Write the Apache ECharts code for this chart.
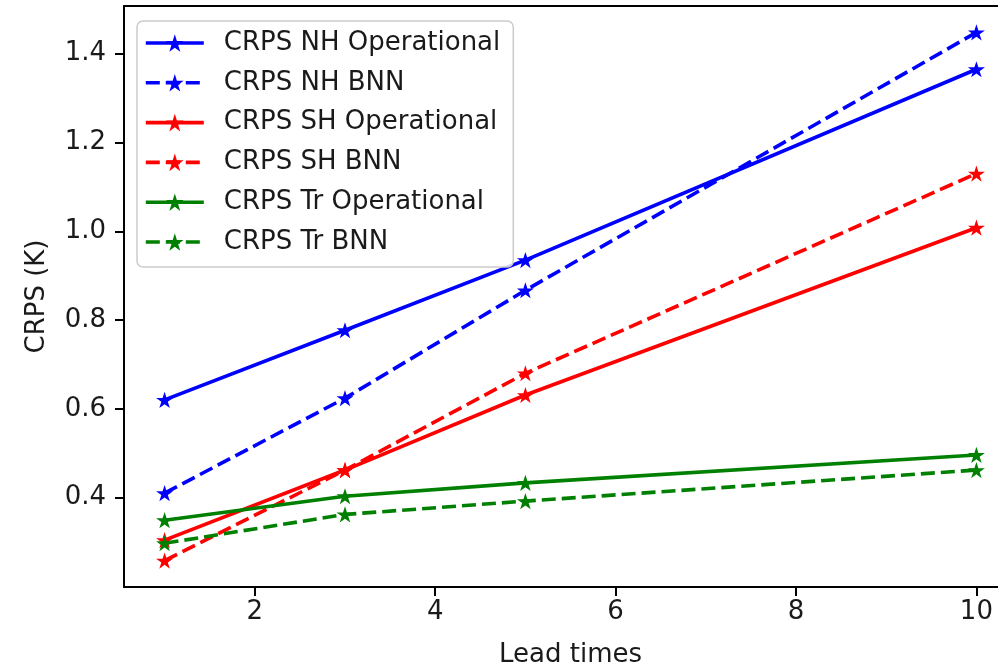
<!DOCTYPE html>
<html>
<head>
<meta charset="utf-8">
<script src="https://cdn.jsdelivr.net/npm/echarts@6/dist/echarts.min.js"></script>
<style>
  html, body { margin: 0; padding: 0; background: #fff; overflow: hidden; width: 998px; }
  /* wider than the window: the right spine falls outside the picture, as in the original */
  #chart { width: 1030px; height: 669px; }
</style>
</head>
<body>
<div id="chart"></div>
<script>
// lead times (x) and CRPS values
var leadTimes = [1, 3, 5, 10];
var nhOperational = [0.620, 0.777, 0.935, 1.365];
var nhBnn = [0.410, 0.624, 0.867, 1.448];
var shOperational = [0.304, 0.462, 0.631, 1.008];
var shBnn = [0.258, 0.462, 0.680, 1.130];
var trOperational = [0.349, 0.403, 0.433, 0.496];
var trBnn = [0.297, 0.362, 0.392, 0.462];

var xTicks = [2, 4, 6, 8, 10];
var yTicks = [0.4, 0.6, 0.8, 1.0, 1.2, 1.4];

var seriesNames = ['CRPS NH Operational', 'CRPS NH BNN', 'CRPS SH Operational',
  'CRPS SH BNN', 'CRPS Tr Operational', 'CRPS Tr BNN'];

// matplotlib '*' marker
var star = 'path://M0,-10 L2.245,-3.09 L9.511,-3.09 L3.633,1.18 L5.878,8.09 L0,3.82 ' +
  'L-5.878,8.09 L-3.633,1.18 L-9.511,-3.09 L-2.245,-3.09 Z';

var font = 'DejaVu Sans';
var fs = 26;

function pairs(ys) {
  return leadTimes.map(function (x, i) { return [x, ys[i]]; });
}

function makeLine(name, ys, color, dashed) {
  return {
    name: name,
    type: 'line',
    data: pairs(ys),
    symbol: star,
    symbolSize: 17,
    symbolKeepAspect: true,
    showAllSymbol: true,
    itemStyle: { color: color, borderWidth: 0 },
    lineStyle: { color: color, width: 3.6, type: dashed ? [14, 6] : 'solid' },
    emphasis: { disabled: true },
    animation: false
  };
}

var myChart = echarts.init(document.getElementById('chart'));

var option = {
  backgroundColor: '#fff',
  animation: false,
  grid: {
    left: 124,
    top: 6,
    width: 893,
    height: 581,
    show: false,
    containLabel: false,
    outerBoundsMode: 'none'
  },
  legend: {
    orient: 'vertical',
    left: 137,
    top: 21,
    padding: [7, 13, 10, 7],
    itemWidth: 58,
    itemHeight: 22,
    itemGap: 9.8,
    backgroundColor: 'rgba(255,255,255,0.8)',
    borderColor: '#cccccc',
    borderWidth: 1.5,
    borderRadius: 6,
    z: 10,
    data: seriesNames,
    lineStyle: { width: 3.6 },
    textStyle: {
      fontFamily: font,
      fontSize: fs,
      color: '#1a1a1a',
      lineHeight: 30,
      padding: [0, 0, 0, 15]
    }
  },
  xAxis: [{
    type: 'value',
    min: 0.55,
    max: 10.45,
    name: 'Lead times',
    nameLocation: 'middle',
    nameGap: 55,
    nameTextStyle: { fontFamily: font, fontSize: fs, color: '#1a1a1a' },
    splitLine: { show: false },
    axisLine: { lineStyle: { color: '#000', width: 2 } },
    axisTick: { show: true, inside: false, length: 9, lineStyle: { color: '#000', width: 2 }, customValues: xTicks },
    axisLabel: { fontFamily: font, fontSize: fs, color: '#1a1a1a', margin: 12, customValues: xTicks }
  }, {
    // top spine only
    type: 'value',
    position: 'top',
    min: 0.55,
    max: 10.45,
    splitLine: { show: false },
    axisLine: { show: true, lineStyle: { color: '#000', width: 2 } },
    axisTick: { show: false },
    axisLabel: { show: false }
  }],
  yAxis: {
    type: 'value',
    min: 0.1985,
    max: 1.5075,
    name: 'CRPS (K)',
    nameLocation: 'middle',
    nameGap: 74,
    nameRotate: 90,
    nameTextStyle: { fontFamily: font, fontSize: fs, color: '#1a1a1a' },
    splitLine: { show: false },
    axisLine: { show: true, lineStyle: { color: '#000', width: 2 } },
    axisTick: { show: true, inside: false, length: 9, lineStyle: { color: '#000', width: 2 }, customValues: yTicks },
    axisLabel: {
      fontFamily: font, fontSize: fs, color: '#1a1a1a', margin: 18, customValues: yTicks,
      formatter: function (v) { return v.toFixed(1); }
    }
  },
  series: [
    makeLine(seriesNames[0], nhOperational, '#0000ff', false),
    makeLine(seriesNames[1], nhBnn, '#0000ff', true),
    makeLine(seriesNames[2], shOperational, '#ff0000', false),
    makeLine(seriesNames[3], shBnn, '#ff0000', true),
    makeLine(seriesNames[4], trOperational, '#008000', false),
    makeLine(seriesNames[5], trBnn, '#008000', true)
  ]
};

myChart.setOption(option);
</script>
</body>
</html>
